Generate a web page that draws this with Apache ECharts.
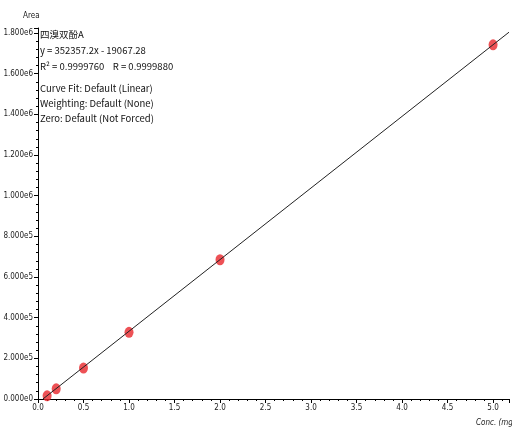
<!DOCTYPE html>
<html><head><meta charset="utf-8">
<script src="https://cdn.jsdelivr.net/npm/echarts@6/dist/echarts.min.js"></script>
<style>html,body{margin:0;padding:0;background:#fff}#c{width:512px;height:427px}</style>
</head><body><div id="c"></div>
<script>
var concX = [0.1, 0.2, 0.5, 1.0, 2.0, 5.0];
var areaY = [15500, 50000, 152000, 328000, 685000, 1742000];
var fitX = [0.0541, 5.175];
var fitY = [0, 1804400];
var infoLines = ['四溴双酚A', 'y = 352357.2x - 19067.28', 'R² = 0.9999760    R = 0.9999880', 'Curve Fit: Default (Linear)', 'Weighting: Default (None)', 'Zero: Default (Not Forced)'];
var infoMidY = [34, 50, 66, 88, 103, 118];

var FONT = '"Liberation Sans Narrow","DejaVu Sans Condensed","Liberation Sans",sans-serif';
var chart = echarts.init(document.getElementById('c'));
var graphics = infoLines.map(function (t, i) {
  return {type: 'text', x: 40, y: infoMidY[i], z: 10,
    style: {text: t, font: '9.5px "Noto Sans CJK SC","Liberation Sans",sans-serif', fill: '#111', verticalAlign: 'middle'}};
});
graphics.push({type: 'text', x: 23, y: 16, style: {text: 'Area', font: '8px ' + FONT, fill: '#222', verticalAlign: 'middle'}});
graphics.push({type: 'text', x: 476, y: 423, style: {text: 'Conc. (mg/L)', font: 'italic 8px ' + FONT, fill: '#222', verticalAlign: 'middle'}});

chart.setOption({
  animation: false,
  backgroundColor: '#fff',
  grid: {left: 38, top: 28, right: 0, bottom: 28, containLabel: false},
  xAxis: {
    type: 'value', min: 0, max: 5.175, interval: 0.5,
    axisLine: {lineStyle: {color: '#000', width: 1}},
    axisTick: {show: true, length: 4, inside: false, lineStyle: {color: '#000'}},
    minorTick: {show: true, splitNumber: 5, length: 2, lineStyle: {color: '#000'}},
    splitLine: {show: false},
    axisLabel: {color: '#222', fontSize: 8, fontFamily: FONT, margin: 5,
      formatter: function (v) { return Math.abs(v / 0.5 - Math.round(v / 0.5)) < 1e-6 ? v.toFixed(1) : ''; }}
  },
  yAxis: {
    type: 'value', min: 0, max: 1825000, interval: 200000,
    axisLine: {show: true, lineStyle: {color: '#000', width: 1}},
    axisTick: {show: true, length: 4, lineStyle: {color: '#000'}},
    minorTick: {show: true, splitNumber: 5, length: 2, lineStyle: {color: '#000'}},
    splitLine: {show: false},
    axisLabel: {color: '#222', fontSize: 8, fontFamily: FONT, margin: 5,
      formatter: function (v) {
        if (Math.abs(v / 200000 - Math.round(v / 200000)) > 1e-6) return '';
        return v.toExponential(3).replace('e+', 'e');
      }}
  },
  graphic: graphics,
  series: [
    {type: 'line', data: fitX.map(function (x, i) { return [x, fitY[i]]; }),
      symbol: 'none', lineStyle: {color: '#222', width: 1}, z: 3, silent: true},
    {type: 'scatter', data: concX.map(function (x, i) { return [x, areaY[i]]; }),
      symbol: 'circle', symbolSize: [9, 11], itemStyle: {color: '#e8252b'}, z: 2}
  ]
});
</script></body></html>
